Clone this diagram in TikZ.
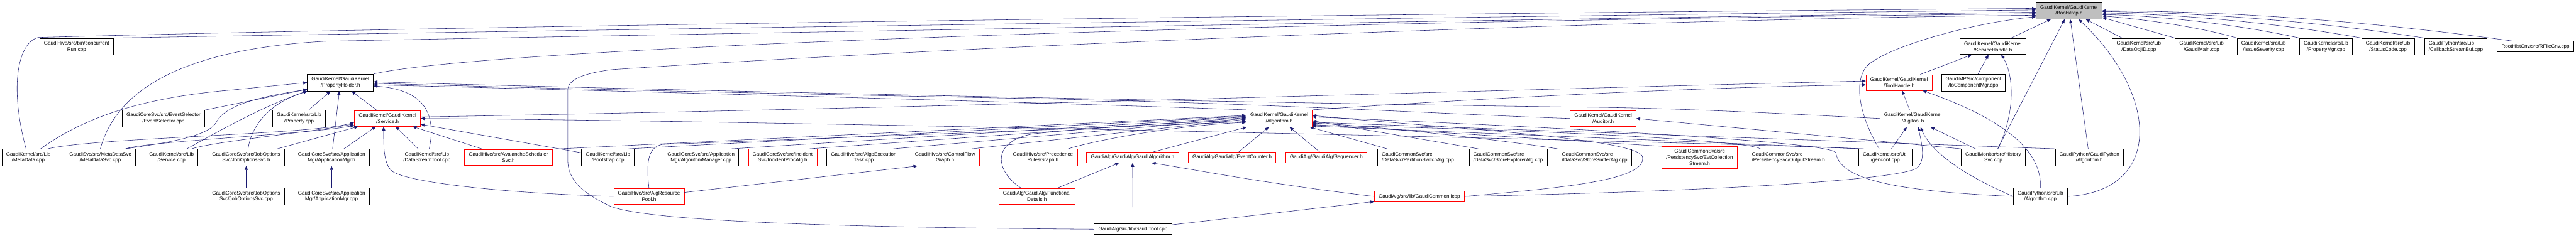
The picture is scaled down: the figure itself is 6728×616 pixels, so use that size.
\documentclass[tikz,border=0pt]{standalone}
\usepackage{fontspec}
\setmainfont{Liberation Sans}
\usetikzlibrary{arrows.meta}
\definecolor{edgeblue}{RGB}{25,25,112}
\begin{document}
\begin{tikzpicture}[x=0.5pt, y=-0.5pt, >={Triangle[length=5pt,width=4.2pt]},
	file/.style={draw, fill=white, line width=.6pt, font=\fontsize{6.6}{8}\selectfont, align=center, inner xsep=5.5pt, inner ysep=3.9pt},
	cut/.style={file, draw=red},
	root/.style={file, fill=black!25},
	dep/.style={->, edgeblue, line width=.45pt}]
	\useasboundingbox (0,0) rectangle (6728,616);
	\node[root] (boot) at (5404,28) {GaudiKernel/GaudiKernel\\/Bootstrap.h};
	\node[file] (crun) at (200,122) {GaudiHive/src/bin/concurrent\\Run.cpp};
	\node[file] (shandle) at (5205,122) {GaudiKernel/GaudiKernel\\/ServiceHandle.h};
	\node[file] (dataobj) at (5586,122) {GaudiKernel/src/Lib\\/DataObjID.cpp};
	\node[file] (gmain) at (5750,122) {GaudiKernel/src/Lib\\/GaudiMain.cpp};
	\node[file] (issue) at (5912,122) {GaudiKernel/src/Lib\\/IssueSeverity.cpp};
	\node[file] (propmgr) at (6075,122) {GaudiKernel/src/Lib\\/PropertyMgr.cpp};
	\node[file] (status) at (6237,122) {GaudiKernel/src/Lib\\/StatusCode.cpp};
	\node[file, align=left] (callback) at (6414,122) {GaudiPython/src/Lib\\/CallbackStreamBuf.cpp};
	\node[file] (rfile) at (6622,122) {RootHistCnv/src/RFileCnv.cpp};
	\node[file] (pholder) at (889,216) {GaudiKernel/GaudiKernel\\/PropertyHolder.h};
	\node[cut] (thandle) at (4960,216) {GaudiKernel/GaudiKernel\\/ToolHandle.h};
	\node[file] (iocomp) at (5154,216) {GaudiMP/src/component\\/IoComponentMgr.cpp};
	\node[file] (evsel) at (427,310) {GaudiCoreSvc/src/EventSelector\\/EventSelector.cpp};
	\node[file] (propcpp) at (781,310) {GaudiKernel/src/Lib\\/Property.cpp};
	\node[cut] (serviceh) at (1012,310) {GaudiKernel/GaudiKernel\\/Service.h};
	\node[cut] (algh) at (3341,310) {GaudiKernel/GaudiKernel\\/Algorithm.h};
	\node[cut] (auditor) at (4187,310) {GaudiKernel/GaudiKernel\\/Auditor.h};
	\node[cut] (algtool) at (4996,310) {GaudiKernel/GaudiKernel\\/AlgTool.h};
	\node[file] (metadata) at (74,412) {GaudiKernel/src/Lib\\/MetaData.cpp};
	\node[file] (mdsvc) at (262,412) {GaudiSvc/src/MetaDataSvc\\/MetaDataSvc.cpp};
	\node[file] (servicecpp) at (448,412) {GaudiKernel/src/Lib\\/Service.cpp};
	\node[file] (josvch) at (643,412) {GaudiCoreSvc/src/JobOptions\\Svc/JobOptionsSvc.h};
	\node[file] (appmgrh) at (866,412) {GaudiCoreSvc/src/Application\\Mgr/ApplicationMgr.h};
	\node[file] (dstool) at (1115,412) {GaudiKernel/src/Lib\\/DataStreamTool.cpp};
	\node[cut] (avalanche) at (1328,412) {GaudiHive/src/AvalancheScheduler\\Svc.h};
	\node[file] (bootcpp) at (1588,412) {GaudiKernel/src/Lib\\/Bootstrap.cpp};
	\node[file] (algmgr) at (1831,412) {GaudiCoreSvc/src/Application\\Mgr/AlgorithmManager.cpp};
	\node[cut] (incident) at (2044,412) {GaudiCoreSvc/src/Incident\\Svc/IncidentProcAlg.h};
	\node[file] (algoexec) at (2256,412) {GaudiHive/src/AlgoExecution\\Task.cpp};
	\node[cut] (cfgraph) at (2468,412) {GaudiHive/src/ControlFlow\\Graph.h};
	\node[cut] (prgraph) at (2724,412) {GaudiHive/src/Precedence\\RulesGraph.h};
	\node[cut] (gaudialg) at (2958,412) {GaudiAlg/GaudiAlg/GaudiAlgorithm.h};
	\node[cut] (evcounter) at (3218,412) {GaudiAlg/GaudiAlg/EventCounter.h};
	\node[cut] (sequencer) at (3464,412) {GaudiAlg/GaudiAlg/Sequencer.h};
	\node[file, align=left] (partition) at (3703,412) {GaudiCommonSvc/src\\/DataSvc/PartitionSwitchAlg.cpp};
	\node[file, align=left] (explorer) at (3939,412) {GaudiCommonSvc/src\\/DataSvc/StoreExplorerAlg.cpp};
	\node[file, align=left] (sniffer) at (4165,412) {GaudiCommonSvc/src\\/DataSvc/StoreSnifferAlg.cpp};
	\node[cut] (evtcoll) at (4439,412) {GaudiCommonSvc/src\\/PersistencySvc/EvtCollection\\Stream.h};
	\node[cut, align=left] (outstream) at (4671,412) {GaudiCommonSvc/src\\/PersistencySvc/OutputStream.h};
	\node[file] (genconf) at (4924,412) {GaudiKernel/src/Util\\/genconf.cpp};
	\node[file] (history) at (5206,412) {GaudiMonitor/src/History\\Svc.cpp};
	\node[file] (gpalgh) at (5457,412) {GaudiPython/GaudiPython\\/Algorithm.h};
	\node[file] (jocpp) at (643,514) {GaudiCoreSvc/src/JobOptions\\Svc/JobOptionsSvc.cpp};
	\node[file] (appmgrcpp) at (866,514) {GaudiCoreSvc/src/Application\\Mgr/ApplicationMgr.cpp};
	\node[cut] (respool) at (1695,514) {GaudiHive/src/AlgResource\\Pool.h};
	\node[cut] (functional) at (2708,514) {GaudiAlg/GaudiAlg/Functional\\Details.h};
	\node[cut] (gcommon) at (3707,514) {GaudiAlg/src/lib/GaudiCommon.icpp};
	\node[file] (gpalgcpp) at (5329,514) {GaudiPython/src/Lib\\/Algorithm.cpp};
	\node[file] (gtool) at (2959,600) {GaudiAlg/src/lib/GaudiTool.cpp};

	\draw[dep] (crun.north east) .. controls (1500,78) and (4300,38) .. ([yshift=1pt]boot.west);
	\draw[dep] ([xshift=-3pt]metadata.north) .. controls (25,230) and (45,112) .. (100,98) .. controls (1500,60) and (4300,30) .. ([yshift=3pt]boot.west);
	\draw[dep] (mdsvc.north) .. controls (300,250) and (450,130) .. (850,108) .. controls (2000,85) and (4300,45) .. ([yshift=-2pt]boot.west);
	\draw[dep] (pholder.north east) .. controls (1250,130) and (3000,60) .. ([yshift=-4pt]boot.west);
	\draw[dep] (gtool.west) .. controls (2200,595) and (1700,580) .. (1595,540) .. controls (1520,505) and (1483,470) .. (1483,420) -- (1483,235) .. controls (1483,210) and (1520,192) .. (1600,182) .. controls (2600,115) and (4300,50) .. ([yshift=-6pt]boot.west);
	\draw[dep] ([xshift=-8pt]genconf.north) .. controls (4860,310) and (4835,210) .. (4881,168) .. controls (4940,120) and (5150,60) .. ([yshift=-8pt]boot.west);
	\draw[dep] (shandle) -- (boot);
	\draw[dep] (history) -- (boot);
	\draw[dep] (gpalgh) -- (boot);
	\draw[dep] (gpalgcpp.east) .. controls (5650,500) and (5640,250) .. ([xshift=12.5pt]boot.south);
	\draw[dep] (dataobj) -- (boot);
	\draw[dep] (gmain.north west) -- ([yshift=-9pt]boot.east);
	\draw[dep] (issue.north west) .. controls (5750,72) and (5600,50) .. ([yshift=-7pt]boot.east);
	\draw[dep] (propmgr.north west) .. controls (5850,65) and (5650,42) .. ([yshift=-5pt]boot.east);
	\draw[dep] (status.north west) .. controls (5950,60) and (5700,38) .. ([yshift=-3pt]boot.east);
	\draw[dep] (callback.north west) .. controls (6050,55) and (5750,34) .. ([yshift=-1pt]boot.east);
	\draw[dep] ([xshift=-30pt]rfile.north) .. controls (6150,50) and (5800,30) .. (boot.east);

	\draw[dep] (thandle) -- (shandle);
	\draw[dep] (iocomp) -- (shandle);
	\draw[dep] ([xshift=6pt]history.north) .. controls (5262,300) and (5262,200) .. ([xshift=11pt]shandle.south);
	\draw[dep] (algtool) -- (thandle);
	\draw[dep] (gpalgcpp.north) .. controls (5335,380) and (5200,300) .. ([xshift=31pt]thandle.south);
	\draw[dep] ([yshift=2pt]serviceh.east) .. controls (2500,282) and (4000,232) .. ([yshift=2pt]thandle.west);
	\draw[dep] (algh.north east) .. controls (3800,262) and (4400,228) .. ([yshift=-3pt]thandle.west);
	\draw[dep] (genconf) -- (algtool);
	\draw[dep] (history) -- (algtool);
	\draw[dep] (gpalgcpp.west) .. controls (5110,450) and (5040,390) .. ([xshift=10pt]algtool.south);
	\draw[dep] (gcommon.east) .. controls (4500,500) and (4960,470) .. (5006,440) .. controls (5030,420) and (5020,380) .. ([xshift=7pt]algtool.south);
	\draw[dep] (history.north west) -- (auditor.east);

	\draw[dep] (evcounter) -- (algh);
	\draw[dep] (sequencer) -- (algh);
	\draw[dep] (partition) -- (algh);
	\draw[dep] ([xshift=-39pt]explorer.north) -- ([yshift=-3pt]algh.east);
	\draw[dep] (sniffer.north west) .. controls (3950,370) and (3600,330) .. ([yshift=-6pt]algh.east);
	\draw[dep] (evtcoll.north west) -- ([yshift=-8pt]algh.east);
	\draw[dep] ([xshift=17pt]outstream.north west) .. controls (4560,365) and (3900,335) .. ([yshift=-9pt]algh.east);
	\draw[dep] ([xshift=7pt]genconf.north west) -- ([yshift=-10pt]algh.east);
	\draw[dep] (gpalgh.north west) -- ([yshift=-5pt]algh.east);
	\draw[dep] (gpalgcpp.west) .. controls (4950,500) and (4805,470) .. (4795,400) .. controls (4790,370) and (4000,330) .. ([yshift=2pt]algh.east);
	\draw[dep] (gcommon.east) .. controls (4100,490) and (4300,470) .. (4290,411) .. controls (4285,360) and (3700,330) .. ([yshift=4pt]algh.east);
	\draw[dep] (gaudialg) -- (algh);
	\draw[dep] ([xshift=33pt]prgraph.north) .. controls (2850,370) and (3050,330) .. ([yshift=-5pt]algh.west);
	\draw[dep] ([xshift=-20pt]functional.north) .. controls (2600,450) and (2585,370) .. (2700,350) .. controls (2900,330) and (3100,318) .. ([yshift=-3pt]algh.west);
	\draw[dep] ([xshift=-10pt]cfgraph.north east) -- ([yshift=-1pt]algh.west);
	\draw[dep] ([xshift=-10pt]algoexec.north east) -- (algh.west);
	\draw[dep] ([xshift=-10pt]incident.north east) -- ([yshift=1pt]algh.west);
	\draw[dep] ([xshift=-10pt]algmgr.north east) -- ([yshift=2pt]algh.west);
	\draw[dep] (respool.north) .. controls (1688,430) and (1690,385) .. (1730,378) .. controls (2200,360) and (3000,330) .. ([yshift=-4pt]algh.west);
	\draw[dep] ([xshift=-8pt]bootcpp.north east) -- ([yshift=3pt]algh.west);
	\draw[dep] ([xshift=-4pt]avalanche.north east) -- ([yshift=4pt]algh.west);

	\draw[dep] (appmgrh) -- (serviceh);
	\draw[dep] (dstool) -- (serviceh);
	\draw[dep] (avalanche) -- (serviceh);
	\draw[dep] (bootcpp) -- (serviceh);
	\draw[dep] (josvch) -- (serviceh);
	\draw[dep] (respool.west) .. controls (1300,505) and (1050,475) .. (1022,446) .. controls (1000,425) and (1002,370) .. ([xshift=-5pt]serviceh.south);
	\draw[dep] ([xshift=-9.5pt]metadata.north east) .. controls (250,360) and (820,352) .. ([yshift=-5pt]serviceh.west);
	\draw[dep] ([xshift=26.5pt]servicecpp.north) .. controls (560,370) and (820,345) .. ([yshift=-7pt]serviceh.west);
	\draw[dep] ([xshift=33pt]mdsvc.north) .. controls (380,370) and (820,350) .. ([yshift=-9pt]serviceh.west);
	\draw[dep] (genconf.north west) .. controls (4600,375) and (2000,315) .. (serviceh.east);

	\draw[dep] (propcpp) -- (pholder);
	\draw[dep] (appmgrh) -- (pholder);
	\draw[dep] (serviceh) -- (pholder);
	\draw[dep] (evsel) -- (pholder);
	\draw[dep] ([xshift=3pt]dstool.north) .. controls (1140,300) and (1110,235) .. ([yshift=-4.5pt]pholder.east);
	\draw[dep] ([xshift=16pt]metadata.north) .. controls (190,330) and (320,260) .. (600,236) .. controls (700,226) and (760,220) .. (pholder.west);
	\draw[dep] ([xshift=33pt]mdsvc.north) .. controls (450,372) and (545,355) .. (565,320) .. controls (590,270) and (700,250) .. ([yshift=-9pt]pholder.west);
	\draw[dep] ([xshift=20pt]servicecpp.north) .. controls (560,350) and (680,280) .. (pholder.south west);
	\draw[dep] ([xshift=2.5pt]josvch.north) .. controls (655,340) and (690,275) .. (pholder.south west);
	\draw[dep] (algh.north west) .. controls (2800,270) and (1500,235) .. ([yshift=-3pt]pholder.east);
	\draw[dep] (auditor.west) .. controls (3800,300) and (3300,270) .. (2700,258) .. controls (2000,245) and (1300,228) .. ([yshift=-1pt]pholder.east);
	\draw[dep] (algtool.west) .. controls (4700,300) and (4400,282) .. (4100,280) .. controls (3000,265) and (1500,230) .. ([yshift=1pt]pholder.east);

	\draw[dep] (jocpp) -- (josvch);
	\draw[dep] (appmgrcpp) -- (appmgrh);
	\draw[dep] (gtool) -- (gaudialg);
	\draw[dep] (functional) -- (gaudialg);
	\draw[dep] (gcommon.west) .. controls (3300,480) and (3100,440) .. ([xshift=25pt]gaudialg.south);
	\draw[dep] (gtool) -- (gcommon);
	\draw[dep] (respool) -- ([xshift=-36pt]cfgraph.south);
\end{tikzpicture}
\end{document}
